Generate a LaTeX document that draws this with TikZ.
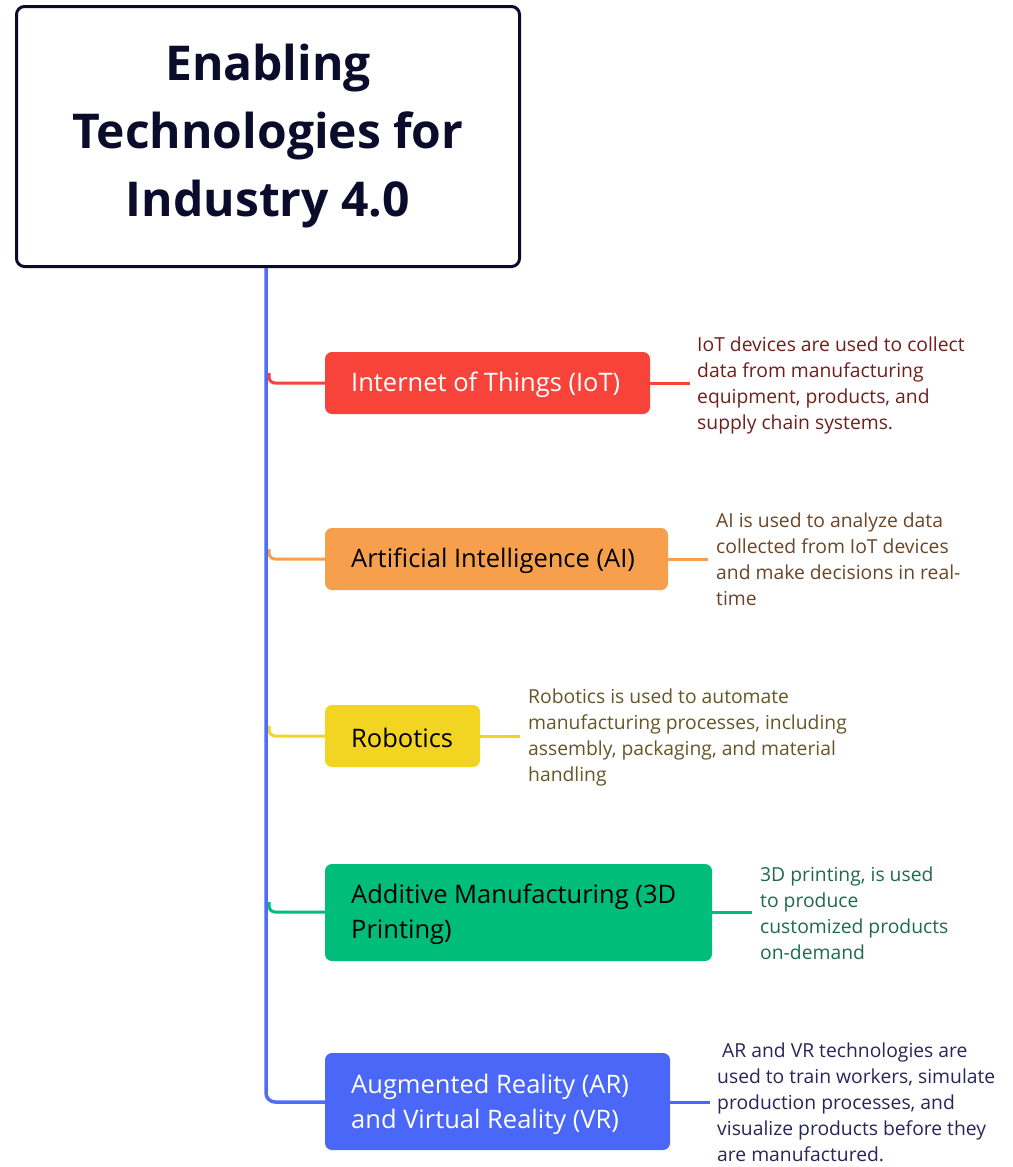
\documentclass[tikz,border=0pt]{standalone}
\usepackage{fontspec}
\setmainfont{Open Sans}
\definecolor{navy}{HTML}{0B0B2B}
\definecolor{trunkc}{HTML}{4D6EF5}
\definecolor{cred}{HTML}{F8433A}
\definecolor{corange}{HTML}{F6A04D}
\definecolor{cyellow}{HTML}{F2D422}
\definecolor{cgreen}{HTML}{00BD7B}
\definecolor{cblue}{HTML}{4A67F7}
\definecolor{tred}{HTML}{6E1F1B}
\definecolor{torange}{HTML}{6B4526}
\definecolor{tyellow}{HTML}{665526}
\definecolor{tgreen}{HTML}{1F6B48}
\definecolor{tblue}{HTML}{262659}
\begin{document}
\begin{tikzpicture}[x=1pt,y=-1pt,
  topic/.style={anchor=west, inner sep=0pt, align=left,
    font=\fontsize{25.5}{35}\selectfont},
  desc/.style={anchor=north west, inner sep=0pt, align=left,
    font=\fontsize{19.3}{26}\selectfont},
  link/.style={line width=3pt},
]
\useasboundingbox (0,0) rectangle (1012,1167);
% title
\node[draw=navy, line width=3pt, rounded corners=8pt, minimum width=503pt, minimum height=260pt,
  anchor=north west, inner sep=0pt, align=center, text=navy,
  font=\fontsize{48}{68}\selectfont\bfseries] (title) at (15,5)
  {Enabling\\Technologies for\\Industry 4.0};
% topic boxes
\path[fill=cred, rounded corners=7pt] (325,352) rectangle (650,414);
\node[topic, text=white] (iot) at (351,385) {Internet of Things (IoT)};
\path[fill=corange, rounded corners=7pt] (325,528) rectangle (668,590);
\node[topic, text=black] (ai) at (351,561) {Artificial Intelligence (AI)};
\path[fill=cyellow, rounded corners=7pt] (325,705) rectangle (480,767);
\node[topic, text=black] (rob) at (351,738) {Robotics};
\path[fill=cgreen, rounded corners=7pt] (325,864) rectangle (712,961);
\node[topic, text=black] (am) at (351,914) {Additive Manufacturing (3D\\Printing)};
\path[fill=cblue, rounded corners=7pt] (325,1053) rectangle (670,1150);
\node[topic, text=white] (ar) at (351,1104) {Augmented Reality (AR)\\and Virtual Reality (VR)};
% box edge coordinates
\coordinate (iotL) at (325,383); \coordinate (iotR) at (650,383); \coordinate (iotE) at (690,383);
\coordinate (aiL) at (325,559); \coordinate (aiR) at (668,559); \coordinate (aiE) at (708,559);
\coordinate (robL) at (325,736); \coordinate (robR) at (480,736); \coordinate (robE) at (520,736);
\coordinate (amL) at (325,912); \coordinate (amR) at (712,912); \coordinate (amE) at (752,912);
\coordinate (arL) at (325,1102); \coordinate (arR) at (670,1102); \coordinate (arE) at (710,1102);
% branch connectors
\draw[link, cred, rounded corners=6pt] (269,373) |- (iotL);
\draw[link, corange, rounded corners=6pt] (269,549) |- (aiL);
\draw[link, cyellow, rounded corners=6pt] (269,726) |- (robL);
\draw[link, cgreen, rounded corners=6pt] (269,902) |- (amL);
\draw[link, cred] (iotR) -- (iotE);
\draw[link, corange] (aiR) -- (aiE);
\draw[link, cyellow] (robR) -- (robE);
\draw[link, cgreen] (amR) -- (amE);
\draw[link, cblue] (arR) -- (arE);
% trunk
\draw[line width=3.5pt, trunkc, rounded corners=9pt] (title.south -| 266,0) |- (arL);
% descriptions
\node[desc, text=tred] (d1) at (697,337) {IoT devices are used to collect\\data from manufacturing\\equipment, products, and\\supply chain systems.};
\node[desc, text=torange] (d2) at (716,513) {AI is used to analyze data\\collected from IoT devices\\and make decisions in real-\\time};
\node[desc, text=tyellow] (d3) at (528,689) {Robotics is used to automate\\manufacturing processes, including\\assembly, packaging, and material\\handling};
\node[desc, text=tgreen] (d4) at (760,867) {3D printing, is used\\to produce\\customized products\\on-demand};
\node[desc, text=tblue] (d5) at (717,1043) {\ AR and VR technologies are\\used to train workers, simulate\\production processes, and\\visualize products before they\\are manufactured.};
\end{tikzpicture}
\end{document}
